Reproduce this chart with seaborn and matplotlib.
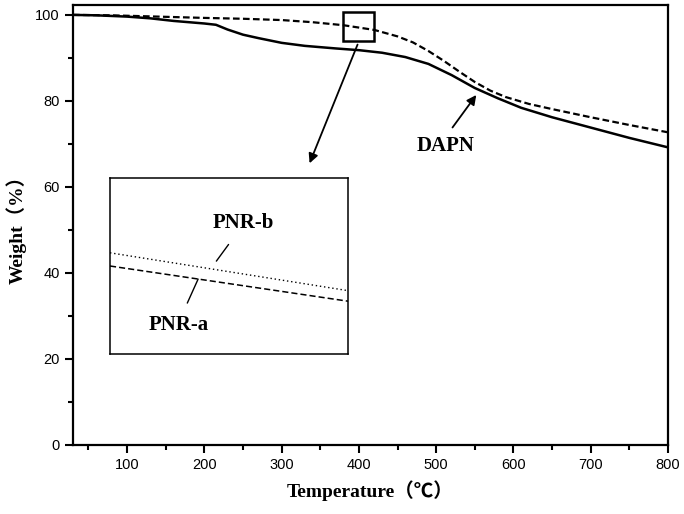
import matplotlib
matplotlib.use("Agg")
import matplotlib.pyplot as plt
import seaborn as sns
import pandas as pd
from matplotlib.patches import Rectangle
from matplotlib.ticker import MultipleLocator

# ---- data ----
dapn_T = [30, 60, 100, 130, 160, 180, 200, 215, 230, 250, 270, 300, 330, 370, 400,
          430, 460, 490, 520, 550, 580, 610, 650, 700, 750, 800]
dapn_W = [100, 99.9, 99.6, 99.2, 98.6, 98.3, 98.0, 97.7, 96.6, 95.4, 94.6, 93.5, 92.8,
          92.2, 91.8, 91.2, 90.2, 88.6, 86.0, 83.0, 80.6, 78.4, 76.2, 73.8, 71.4, 69.2]
pnr_T = [30, 80, 140, 200, 250, 300, 340, 380, 420, 450, 470, 490, 510, 530, 550,
         570, 590, 620, 650, 700, 750, 800]
pnr_W = [100, 99.9, 99.6, 99.3, 99.1, 98.8, 98.3, 97.6, 96.5, 95.0, 93.6, 91.6, 89.3,
         86.8, 84.4, 82.4, 80.9, 79.3, 78.1, 76.2, 74.4, 72.7]
inset_T = [380, 420]
pnr_b_inset = [96.65, 96.22]
pnr_a_inset = [96.50, 96.10]

x_ticks = [100, 200, 300, 400, 500, 600, 700, 800]
y_ticks = [0, 20, 40, 60, 80, 100]

sns.set_style("ticks")
plt.rcParams['font.family'] = ['Liberation Sans', 'DejaVu Sans']
plt.rcParams.update({
    "axes.edgecolor": "black", "text.color": "black", "axes.labelcolor": "black",
    "xtick.color": "black", "ytick.color": "black",
})

fig = plt.figure(figsize=(6.84, 5.14), dpi=100)
ax = fig.add_axes([73/684, 1-445/514, (668-73)/684, (445-5)/514])

df_d = pd.DataFrame({"T": dapn_T, "W": dapn_W})
df_p = pd.DataFrame({"T": pnr_T, "W": pnr_W})
sns.lineplot(data=df_d, x="T", y="W", ax=ax, color="black", lw=1.8, linestyle="-")
sns.lineplot(data=df_p, x="T", y="W", ax=ax, color="black", lw=1.6,
             linestyle=(0, (3, 1.5)))

ax.set_xlim(30, 800)
ax.set_ylim(0, 102.3)
ax.set_xticks(x_ticks)
ax.set_yticks(y_ticks)
ax.xaxis.set_minor_locator(MultipleLocator(50))
ax.yaxis.set_minor_locator(MultipleLocator(10))
ax.tick_params(which="major", direction="out", length=6, width=1.5, labelsize=10.5)
ax.tick_params(which="minor", direction="out", length=3.5, width=1.5)
for s in ax.spines.values():
    s.set_linewidth(1.6)
    s.set_visible(True)
    s.set_color("black")

serif = ['Liberation Serif', 'Noto Sans CJK SC', 'DejaVu Serif']
ax.set_xlabel("Temperature（℃）", family=serif, fontweight="bold", fontsize=14, labelpad=6)
ax.set_ylabel("Weight（%）", family=serif, fontweight="bold", fontsize=14, labelpad=6)

# zoom box and arrow
ax.add_patch(Rectangle((380, 94.0), 40, 6.7, fill=False, lw=1.8, ec="black"))
ax.annotate("", xy=(334.8, 64.9), xytext=(399.6, 93.7),
            arrowprops=dict(arrowstyle="-|>", color="black", lw=1.3, mutation_scale=14))
# DAPN label
ax.annotate("", xy=(554, 81.9), xytext=(519, 73.3),
            arrowprops=dict(arrowstyle="-|>", color="black", lw=1.3, mutation_scale=14))
ax.text(512, 69.5, "DAPN", family=serif, fontweight="bold", fontsize=15,
        ha="center", va="center")

# inset
ins = fig.add_axes([110/684, 1-354/514, 238/684, 176/514])
df_b = pd.DataFrame({"T": inset_T, "W": pnr_b_inset})
df_a = pd.DataFrame({"T": inset_T, "W": pnr_a_inset})
sns.lineplot(data=df_b, x="T", y="W", ax=ins, color="black", lw=1.0, linestyle=(0, (1, 2)))
sns.lineplot(data=df_a, x="T", y="W", ax=ins, color="black", lw=1.1, linestyle=(0, (4, 2)))
ins.set_xlim(380, 420)
ins.set_ylim(95.5, 97.5)
ins.set_xticks([])
ins.set_yticks([])
ins.set_xlabel("")
ins.set_ylabel("")
for s in ins.spines.values():
    s.set_linewidth(1.1)
    s.set_visible(True)
    s.set_color("black")
ins.text(402.4, 96.99, "PNR-b", family=serif, fontweight="bold", fontsize=15,
         ha="center", va="center")
ins.text(391.6, 95.83, "PNR-a", family=serif, fontweight="bold", fontsize=15,
         ha="center", va="center")
ins.annotate("", xy=(397.6, 96.53), xytext=(400.2, 96.77),
             arrowprops=dict(arrowstyle="-", color="black", lw=1.0))
ins.annotate("", xy=(395.0, 96.38), xytext=(392.8, 96.05),
             arrowprops=dict(arrowstyle="-", color="black", lw=1.0))

fig.savefig("out.png", dpi=100)
